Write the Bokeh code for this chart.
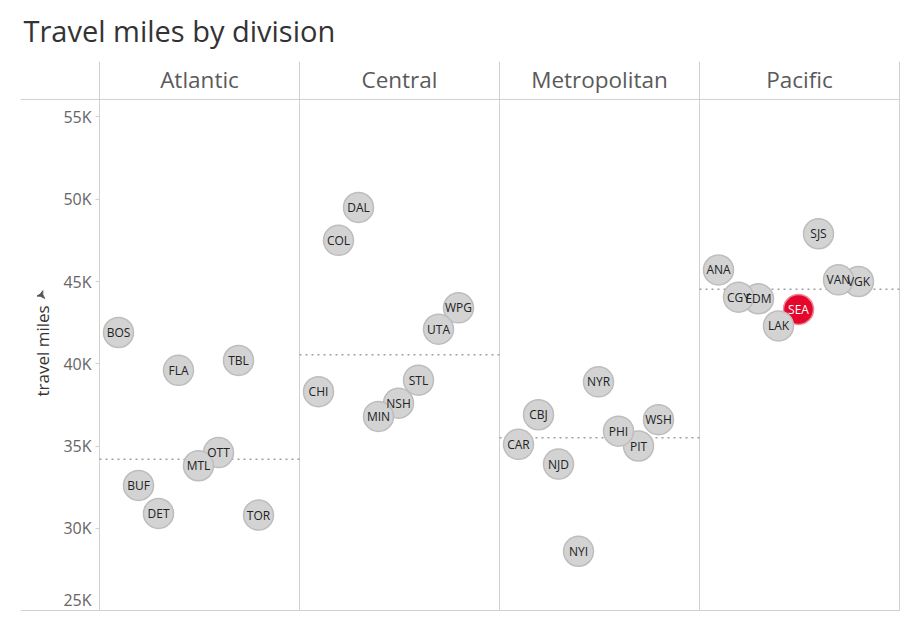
import numpy as np
from bokeh.plotting import figure
from bokeh.models import Range1d, FixedTicker, LinearAxis, ColumnDataSource
from bokeh.core.properties import value
from bokeh.embed import file_html
from bokeh.resources import INLINE

# ---------------- data ----------------
divisions = ["Atlantic", "Central", "Metropolitan", "Pacific"]

atlantic_teams = ["BOS", "BUF", "DET", "FLA", "MTL", "OTT", "TBL", "TOR"]
atlantic_miles = [41900, 32600, 30900, 39600, 33800, 34600, 40200, 30800]

central_teams = ["CHI", "COL", "DAL", "MIN", "NSH", "STL", "UTA", "WPG"]
central_miles = [38300, 47500, 49500, 36800, 37600, 39000, 42100, 43400]

metro_teams = ["CAR", "CBJ", "NJD", "NYI", "NYR", "PHI", "PIT", "WSH"]
metro_miles = [35100, 36900, 33900, 28600, 38900, 35900, 35000, 36600]

pacific_teams = ["ANA", "CGY", "EDM", "LAK", "SEA", "SJS", "VAN", "VGK"]
pacific_miles = [45700, 44050, 43950, 42300, 43300, 47900, 45100, 45000]

highlight_team = "SEA"

y_ticks = [25000, 30000, 35000, 40000, 45000, 50000, 55000]
y_tick_labels = ["25K", "30K", "35K", "40K", "45K", "50K", "55K"]

title_text = "Travel miles by division"
axis_title = "travel miles"

# ---------------- layout constants ----------------
FONT = "Open Sans"
PANEL_W = 10          # x units per division panel (20 px per unit)
LEFT_COL = 3.95       # units of the axis column left of the first panel
PX_PER_Y = 16.48 / 1000.0
Y_BASE = 25000
BOTTOM_PAGE_Y = 610


def y_at(page_y):
    return Y_BASE + (BOTTOM_PAGE_Y - page_y) / PX_PER_Y


y_start = y_at(BOTTOM_PAGE_Y + 1)
y_end = y_at(60)
pane_top = y_at(98)
header_y = y_at(78)

teams_by_div = [atlantic_teams, central_teams, metro_teams, pacific_teams]
miles_by_div = [atlantic_miles, central_miles, metro_miles, pacific_miles]

xs, ys, names = [], [], []
for d, (tms, mls) in enumerate(zip(teams_by_div, miles_by_div)):
    for i, (t, m) in enumerate(zip(tms, mls)):
        xs.append(d * PANEL_W + 0.95 + i)
        ys.append(m)
        names.append(t)

# draw later-alphabet first so earlier teams sit on top
order = list(range(len(xs)))[::-1]
xs = [xs[k] for k in order]
ys = [ys[k] for k in order]
names = [names[k] for k in order]
fills = ["#e4062b" if n == highlight_team else "#d3d3d3" for n in names]
lines = ["#ef8596" if n == highlight_team else "#bdbdbd" for n in names]
tcols = ["#ffffff" if n == highlight_team else "#222222" for n in names]

src = ColumnDataSource(dict(x=xs, y=ys, name=names, fill=fills, line=lines, tcol=tcols))

p = figure(width=902, height=611, output_backend="svg", toolbar_location=None,
           x_range=Range1d(-LEFT_COL, 4 * PANEL_W + 0.1),
           y_range=Range1d(y_start, y_end),
           x_axis_type=None,
           min_border_left=20, min_border_right=1, min_border_top=60,
           min_border_bottom=0)
p.outline_line_color = None
p.ygrid.grid_line_color = None
p.background_fill_color = "white"
p.border_fill_color = "white"

p.title.text = title_text
p.title.text_font = FONT
p.title.text_font_size = "29px"
p.title.text_font_style = "normal"
p.title.text_color = "#333333"
p.title.align = "left"
p.title.vertical_align = "top"
p.title.offset = 3
p.title.standoff = 20

# separators
sep_x = [d * PANEL_W for d in range(len(divisions) + 1)]
p.segment(x0=sep_x, y0=[y_start] * len(sep_x), x1=sep_x, y1=[y_end] * len(sep_x),
          line_color="#d0d0d0", line_width=1)
p.segment(x0=[-LEFT_COL, -LEFT_COL], y0=[pane_top, Y_BASE],
          x1=[4 * PANEL_W, 4 * PANEL_W], y1=[pane_top, Y_BASE],
          line_color="#d0d0d0", line_width=1)

# median reference lines
med = [float(np.median(m)) for m in miles_by_div]
p.segment(x0=[d * PANEL_W for d in range(4)], y0=med,
          x1=[(d + 1) * PANEL_W for d in range(4)], y1=med,
          line_color="#a0a0a0", line_width=1.5, line_dash="2 4")

# points
p.scatter("x", "y", source=src, size=30, marker="circle",
          fill_color="fill", line_color="line", line_width=1.5)
p.text("x", "y", text="name", source=src, text_align="center",
       text_baseline="middle", text_font=value(FONT), text_font_size="12px",
       text_color="tcol")

# panel headers
p.text(x=[d * PANEL_W + PANEL_W / 2 for d in range(4)], y=[header_y] * 4,
       text=divisions, text_align="center", text_baseline="middle",
       text_font=value(FONT), text_font_size="22.5px", text_color="#5a5a5a")

# axis title + pin
p.text(x=[-LEFT_COL + 22 / 20.0], y=[y_at(350)], text=[axis_title], angle=np.pi / 2,
       text_align="center", text_baseline="middle", text_font=value(FONT),
       text_font_size="17px", text_color="#333333")
p.scatter(x=[-LEFT_COL + 21 / 20.0], y=[y_at(294)], marker="triangle_pin", size=8,
          angle=-2.4, fill_color="#555555", line_color="#555555")

# y axis
ax = p.yaxis[0]
ax.fixed_location = 0
ax.ticker = FixedTicker(ticks=y_ticks)
ax.major_label_overrides = {t: (l if t != Y_BASE else "") for t, l in zip(y_ticks, y_tick_labels)}
ax.axis_line_color = None
ax.major_tick_in = 0
ax.major_tick_out = 4
ax.major_tick_line_color = "#d0d0d0"
ax.minor_tick_line_color = None
ax.major_label_standoff = 4
ax.major_label_text_font = FONT
ax.major_label_text_font_size = "16px"
ax.major_label_text_color = "#666666"

ax2 = LinearAxis(fixed_location=0,
                 ticker=FixedTicker(ticks=[y_at(BOTTOM_PAGE_Y - 10)]),
                 major_label_overrides={y_at(BOTTOM_PAGE_Y - 10): y_tick_labels[0]})
ax2.axis_line_color = None
ax2.major_tick_in = 0
ax2.major_tick_out = 4
ax2.major_tick_line_color = None
ax2.minor_tick_line_color = None
ax2.major_label_standoff = 4
ax2.major_label_text_font = FONT
ax2.major_label_text_font_size = "16px"
ax2.major_label_text_color = "#666666"
p.add_layout(ax2, "left")

open("out.html", "w").write(file_html(p, INLINE))
